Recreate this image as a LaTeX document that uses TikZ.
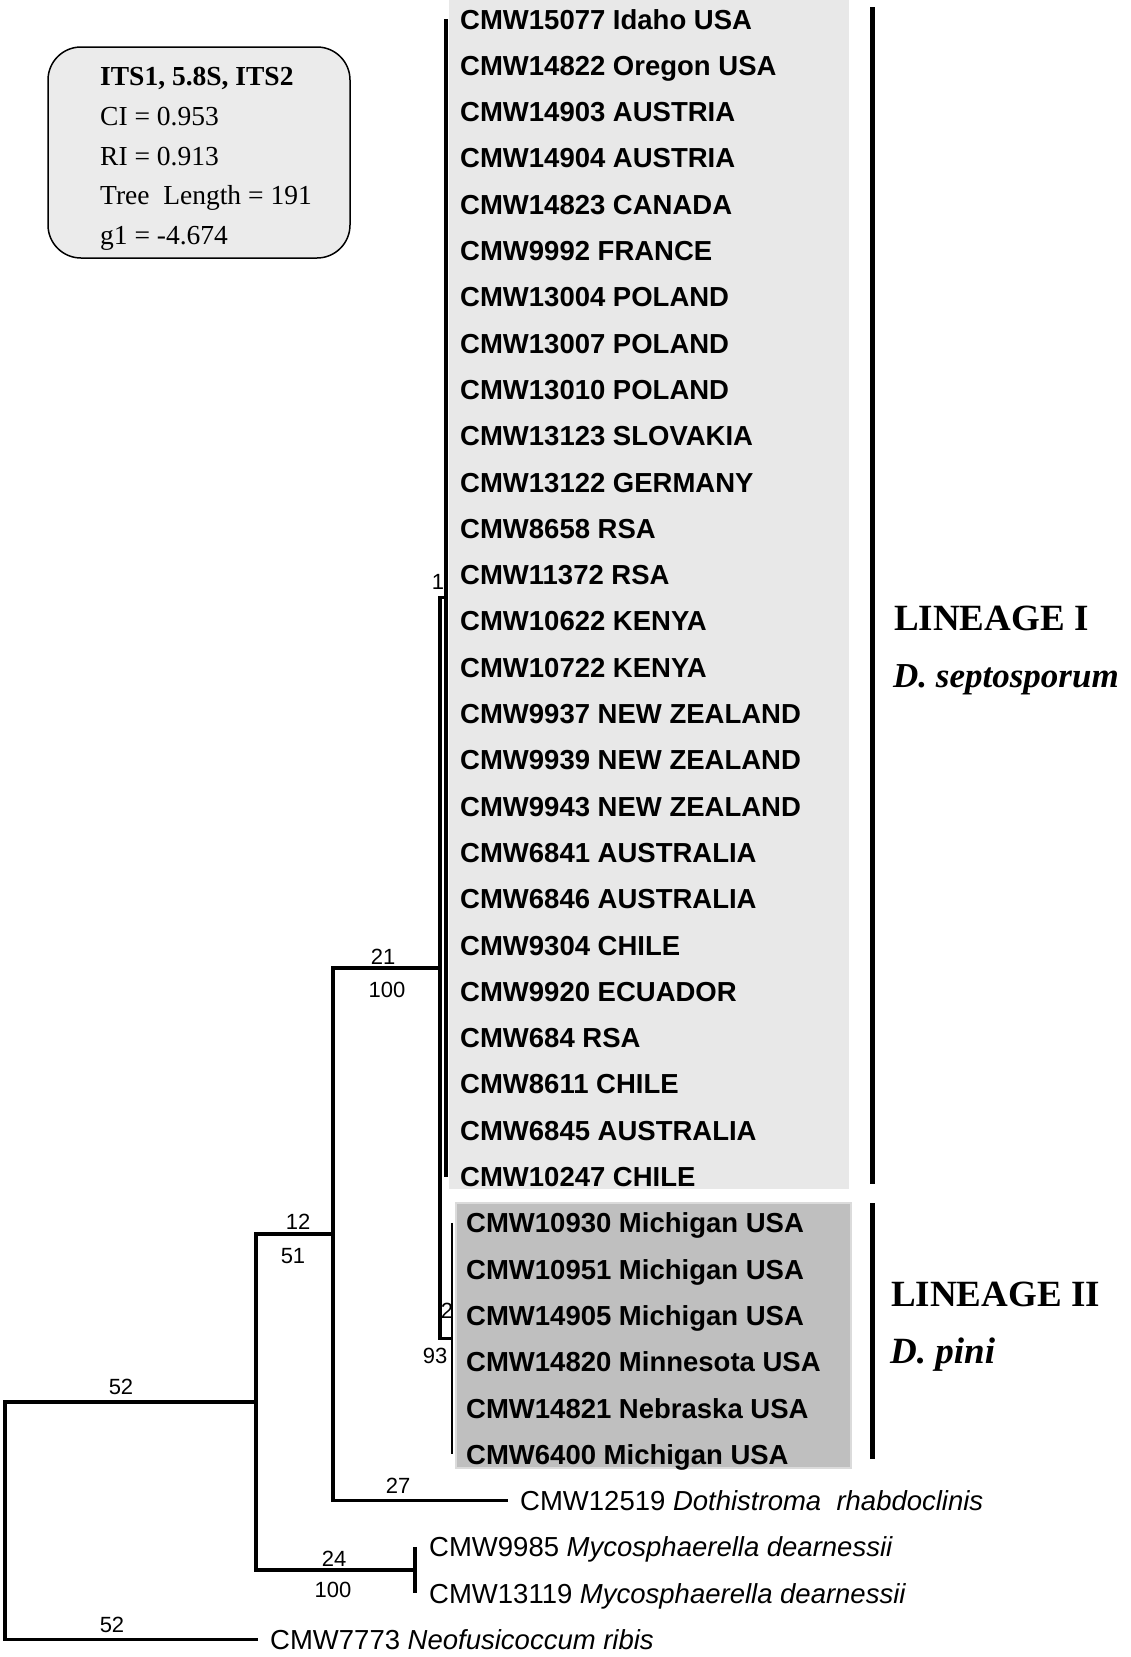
\documentclass[tikz,border=0pt]{standalone}
\usepackage{fontspec}
\setmainfont{Liberation Serif}
\newfontfamily\helv{Liberation Sans}
\definecolor{linIfill}{gray}{0.91}
\definecolor{linIIfill}{gray}{0.75}
\definecolor{linIIedge}{gray}{0.86}
\definecolor{infofill}{gray}{0.92}
\tikzset{
	branch/.style={line width=3.2pt},
	thinbranch/.style={line width=2.2pt},
	cladebar/.style={line width=5pt},
	taxon/.style={anchor=west, inner sep=0pt, text height=20pt, text depth=0pt, font=\helv\bfseries\fontsize{27.5}{30}\selectfont},
	outgroup/.style={anchor=west, inner ysep=0pt, inner xsep=12pt, text height=20pt, text depth=0pt, font=\helv\fontsize{27.5}{30}\selectfont},
	support/.style={inner sep=0pt, font=\helv\fontsize{22}{24}\selectfont},
	infoline/.style={anchor=base west, inner sep=0pt, font=\fontsize{27.5}{30}\selectfont},
	lineage/.style={anchor=base west, inner sep=0pt, font=\bfseries\fontsize{37}{40}\selectfont},
}

\begin{document}
\begin{tikzpicture}[x=1pt, y=-1pt]
			%%%%% START %%%%%
			\useasboundingbox (0, 0) rectangle (1131, 1657);
			
			% shaded clades
			\fill[linIfill] (449, 0) rectangle (849, 1189);
			\draw[fill=linIIfill, draw=linIIedge, line width=2pt] (456, 1203) rectangle (851, 1468);
			
			% statistics box
			\draw[fill=infofill, line width=1.5pt, rounded corners=33pt] (48, 47) rectangle (350, 258);
			\node[infoline] (info1) at (100, 85) {\bfseries ITS1, 5.8S, ITS2};
			\node[infoline] (info2) at (100, 125) {CI = 0.953};
			\node[infoline] (info3) at (100, 165) {RI = 0.913};
			\node[infoline] (info4) at (100, 204) {Tree\ \ Length = 191};
			\node[infoline] (info5) at (100, 244) {g1 = -4.674};
			
			% lineage I
			\node[taxon] (lin1) at (460, 19.0) {CMW15077 Idaho USA};
			\node[taxon] (lin2) at (460, 65.3) {CMW14822 Oregon USA};
			\node[taxon] (lin3) at (460, 111.6) {CMW14903 AUSTRIA};
			\node[taxon] (lin4) at (460, 157.9) {CMW14904 AUSTRIA};
			\node[taxon] (lin5) at (460, 204.2) {CMW14823 CANADA};
			\node[taxon] (lin6) at (460, 250.5) {CMW9992 FRANCE};
			\node[taxon] (lin7) at (460, 296.8) {CMW13004 POLAND};
			\node[taxon] (lin8) at (460, 343.1) {CMW13007 POLAND};
			\node[taxon] (lin9) at (460, 389.4) {CMW13010 POLAND};
			\node[taxon] (lin10) at (460, 435.7) {CMW13123 SLOVAKIA};
			\node[taxon] (lin11) at (460, 482.0) {CMW13122 GERMANY};
			\node[taxon] (lin12) at (460, 528.3) {CMW8658 RSA};
			\node[taxon] (lin13) at (460, 574.6) {CMW11372 RSA};
			\node[taxon] (lin14) at (460, 620.9) {CMW10622 KENYA};
			\node[taxon] (lin15) at (460, 667.2) {CMW10722 KENYA};
			\node[taxon] (lin16) at (460, 713.5) {CMW9937 NEW ZEALAND};
			\node[taxon] (lin17) at (460, 759.8) {CMW9939 NEW ZEALAND};
			\node[taxon] (lin18) at (460, 806.1) {CMW9943 NEW ZEALAND};
			\node[taxon] (lin19) at (460, 852.4) {CMW6841 AUSTRALIA};
			\node[taxon] (lin20) at (460, 898.7) {CMW6846 AUSTRALIA};
			\node[taxon] (lin21) at (460, 945.0) {CMW9304 CHILE};
			\node[taxon] (lin22) at (460, 991.3) {CMW9920 ECUADOR};
			\node[taxon] (lin23) at (460, 1037.6) {CMW684 RSA};
			\node[taxon] (lin24) at (460, 1083.9) {CMW8611 CHILE};
			\node[taxon] (lin25) at (460, 1130.2) {CMW6845 AUSTRALIA};
			\node[taxon] (lin26) at (460, 1176.5) {CMW10247 CHILE};
			
			% lineage II
			\node[taxon] (pin1) at (466, 1222.8) {CMW10930 Michigan USA};
			\node[taxon] (pin2) at (466, 1269.1) {CMW10951 Michigan USA};
			\node[taxon] (pin3) at (466, 1315.4) {CMW14905 Michigan USA};
			\node[taxon] (pin4) at (466, 1361.7) {CMW14820 Minnesota USA};
			\node[taxon] (pin5) at (466, 1408.0) {CMW14821 Nebraska USA};
			\node[taxon] (pin6) at (466, 1454.3) {CMW6400 Michigan USA};
			
			% outgroups
			\node[outgroup] (doth) at (508, 1500.6) {CMW12519 \textit{Dothistroma\ \ rhabdoclinis}};
			\node[outgroup, inner xsep=0pt] (myc1) at (429, 1546.9) {CMW9985 \textit{Mycosphaerella dearnessii}};
			\node[outgroup, inner xsep=0pt] (myc2) at (429, 1593.2) {CMW13119 \textit{Mycosphaerella dearnessii}};
			\node[outgroup] (neo) at (258, 1639.5) {CMW7773 \textit{Neofusicoccum ribis}};
			
			% internal nodes
			\coordinate (root) at (5, 1521);
			\coordinate (nOut) at (256, 1402);
			\coordinate (n12) at (333, 1234);
			\coordinate (n21) at (440, 968);
			\coordinate (n1) at (446, 597.8);
			\coordinate (n2) at (452, 1338.5);
			\coordinate (nMyc) at (415, 1570);
			
			% support values
			\node[support] (s52a) at (121, 1387) {52};
			\node[support] (s52b) at (112, 1625) {52};
			\node[support] (s12) at (298, 1222) {12};
			\node[support] (s51) at (293, 1256) {51};
			\node[support] (s21) at (383, 957) {21};
			\node[support] (s100a) at (387, 990) {100};
			\node[support] (s1) at (438, 582) {1};
			\node[support] (s2) at (447, 1311) {2};
			\node[support] (s93) at (435, 1356) {93};
			\node[support] (s27) at (398, 1486) {27};
			\node[support] (s24) at (334, 1559) {24};
			\node[support] (s100b) at (333, 1590) {100};
			
			% branches
			\draw[branch] (root) |- (nOut);
			\draw[branch] (root) |- (neo.west);
			\draw[branch] (nOut) |- (n12);
			\draw[branch] (nOut) |- (nMyc);
			\draw[branch] (n12) |- (n21);
			\draw[branch] (n12) |- (doth.west);
			\draw[branch] (n21) |- (n1);
			\draw[branch] (n21) |- (n2);
			\draw[branch] (n1 |- lin1.west) -- (n1 |- lin26.west);
			\draw[thinbranch] (n2 |- pin1.west) -- (n2 |- pin6.west);
			\draw[branch] (nMyc |- myc1.west) -- (nMyc |- myc2.west);
			
			% clade bars
			\draw[cladebar] (872, 7) -- (872, 1184);
			\draw[cladebar] (872, 1203) -- (872, 1459);
			\node[lineage] (linI) at (894, 630) {LINEAGE I};
			\node[lineage, font=\bfseries\fontsize{35}{38}\selectfont] (sepI) at (893, 687) {\itshape D. septosporum};
			\node[lineage] (linII) at (891, 1306) {LINEAGE II};
			\node[lineage] (piniII) at (890, 1363) {\itshape D. pini};
			
			%%%%% END %%%%%
\end{tikzpicture}
\end{document}
